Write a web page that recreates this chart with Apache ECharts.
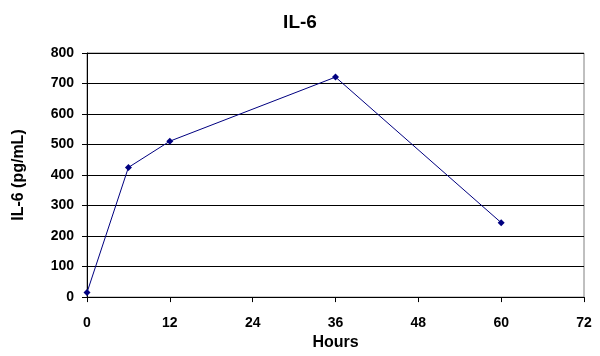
<!DOCTYPE html>
<html>
<head>
<meta charset="utf-8">
<script src="https://cdn.jsdelivr.net/npm/echarts@6/dist/echarts.min.js"></script>
<style>
html,body{margin:0;padding:0;background:#fff;}
#chart{width:600px;height:356px;}
</style>
</head>
<body>
<div id="chart"></div>
<script>
var titleText = 'IL-6';
var xName = 'Hours';
var yName = 'IL-6 (pg/mL)';
var hours = [0, 6, 12, 36, 60];
var il6 = [15, 425, 511, 721, 244];
var xTicks = [0, 12, 24, 36, 48, 60, 72];
var yTicks = [0, 100, 200, 300, 400, 500, 600, 700, 800];

var seriesData = hours.map(function (h, i) { return [h, il6[i]]; });
var font = 'Arial, "Liberation Sans", sans-serif';

var chart = echarts.init(document.getElementById('chart'), null, {renderer: 'canvas'});
chart.setOption({
  animation: false,
  backgroundColor: '#fff',
  title: {
    text: titleText, left: 'center', top: 8,
    textStyle: {fontFamily: font, fontWeight: 'bold', fontSize: 19, color: '#000'}
  },
  grid: {
    left: 87, right: 16, top: 53, bottom: 53.5,
    show: true, borderColor: '#808080', borderWidth: 1, backgroundColor: '#fff'
  },
  xAxis: {
    type: 'value',
    min: xTicks[0], max: xTicks[xTicks.length - 1], interval: 12,
    name: xName, nameLocation: 'middle', nameGap: 35,
    nameTextStyle: {fontFamily: font, fontWeight: 'bold', fontSize: 16, color: '#000'},
    axisLine: {show: true, lineStyle: {color: '#000', width: 1}},
    axisTick: {show: true, length: 5, inside: false, lineStyle: {color: '#000'}},
    axisLabel: {margin: 19, fontFamily: font, fontWeight: 'bold', fontSize: 14, color: '#000'},
    splitLine: {show: false}
  },
  yAxis: {
    type: 'value',
    min: yTicks[0], max: yTicks[yTicks.length - 1], interval: 100,
    name: yName, nameLocation: 'middle', nameGap: 60, nameRotate: 90,
    nameTextStyle: {fontFamily: font, fontWeight: 'bold', fontSize: 16, color: '#000'},
    axisLine: {show: true, lineStyle: {color: '#000', width: 1}},
    axisTick: {show: true, length: 5, inside: false, lineStyle: {color: '#000'}},
    axisLabel: {margin: 13, fontFamily: font, fontWeight: 'bold', fontSize: 14, color: '#000'},
    splitLine: {show: true, lineStyle: {color: '#000', width: 1}}
  },
  series: [{
    type: 'line',
    data: seriesData,
    symbol: 'diamond',
    symbolSize: 7,
    showSymbol: true,
    lineStyle: {color: '#000080', width: 1},
    itemStyle: {color: '#000080'}
  }]
});
</script>
</body>
</html>
